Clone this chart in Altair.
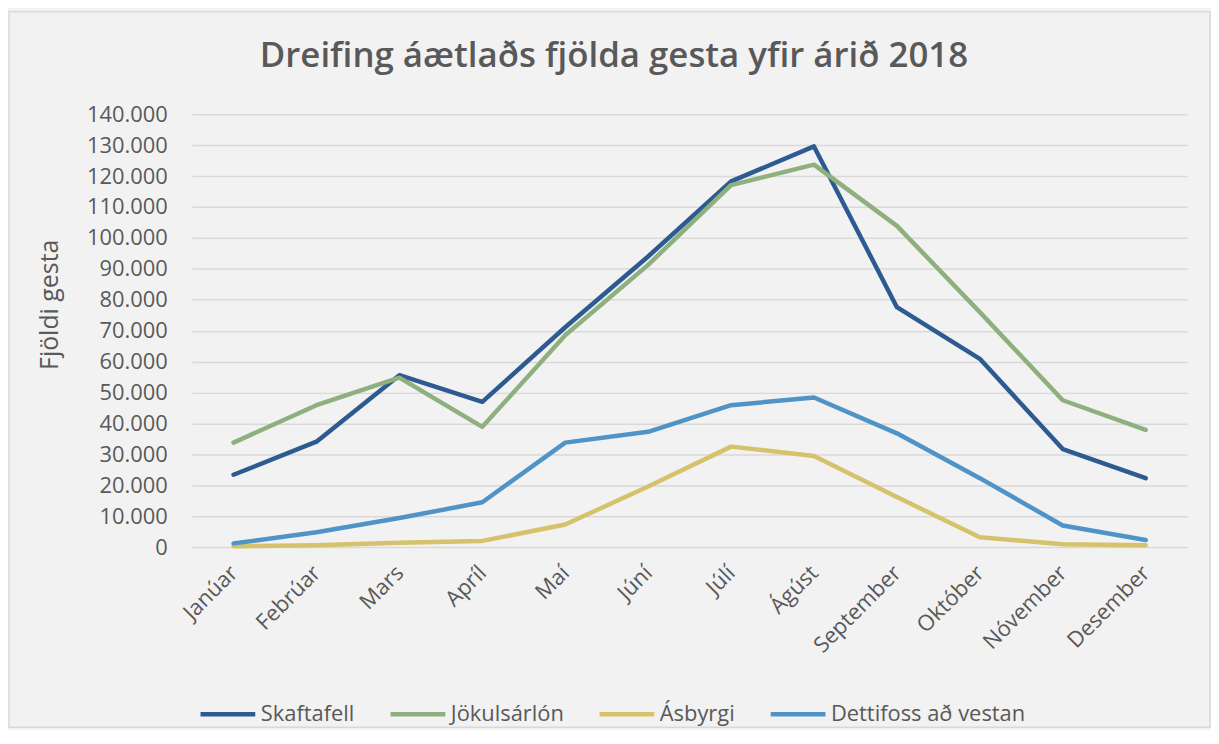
import altair as alt
import pandas as pd

months = ["Janúar", "Febrúar", "Mars", "Apríl", "Maí", "Júní", "Júlí",
          "Ágúst", "September", "Október", "Nóvember", "Desember"]
series = ["Skaftafell", "Jökulsárlón", "Ásbyrgi", "Dettifoss að vestan"]
colors = ["#2d5b91", "#8eb07e", "#d6c26b", "#5093c6"]

skaftafell = [23400, 34100, 55600, 47000, 71100, 94000, 118300, 129600, 77600, 60900, 31700, 22300]
jokulsarlon = [33800, 45900, 54800, 38900, 68500, 91300, 117100, 123700, 103900, 76000, 47500, 37900]
asbyrgi = [300, 600, 1400, 2000, 7300, 19600, 32500, 29500, 16200, 3200, 900, 600]
dettifoss = [1200, 4800, 9400, 14500, 33800, 37300, 45900, 48400, 36800, 22300, 7000, 2300]

y_ticks = list(range(0, 140001, 10000))

rows = []
for name, vals in zip(series, [skaftafell, jokulsarlon, asbyrgi, dettifoss]):
    for m, v in zip(months, vals):
        rows.append({"Mánuður": m, "Staður": name, "Gestir": v})
df = pd.DataFrame(rows)

FONT = "Open Sans"
TXT = "#595959"
PW, PH = 1000, 435
PL, PT, PR, PB = 185, 105, 24, 182

lines = alt.Chart(df).mark_line(strokeWidth=4.5, strokeCap="round", strokeJoin="round").encode(
    x=alt.X("Mánuður:N", sort=months,
            scale=alt.Scale(type="point", padding=0.5),
            axis=alt.Axis(title=None, labelAngle=-45, labelAlign="right",
                          labelBaseline="middle", labelPadding=22, ticks=False,
                          domain=False, grid=False, labelFontSize=22,
                          labelColor=TXT, labelFont=FONT)),
    y=alt.Y("Gestir:Q", scale=alt.Scale(domain=[0, 140000], nice=False),
            axis=alt.Axis(values=y_ticks, title="Fjöldi gesta",
                          labelExpr="replace(format(datum.value, ','), ',', '.')",
                          labelFontSize=22, labelColor=TXT, labelFont=FONT,
                          labelPadding=25, ticks=False, domain=False,
                          gridColor="#d9d9d9", gridWidth=1.5,
                          titleFontSize=25, titleFont=FONT, titleColor=TXT,
                          titleFontWeight="normal", titleAngle=270,
                          titleX=-143, titleY=191, titleAlign="center",
                          titleBaseline="middle")),
    color=alt.Color("Staður:N", scale=alt.Scale(domain=series, range=colors),
                    legend=alt.Legend(title=None, orient="none", legendX=6, legendY=573,
                                      direction="horizontal", symbolType="stroke",
                                      symbolSize=3025, symbolStrokeWidth=4.5,
                                      labelFontSize=22, labelFont=FONT, labelColor=TXT,
                                      labelOffset=3, columnPadding=26, labelLimit=400)),
    order=alt.Order("Staður:N", sort="ascending"),
)

border = alt.Chart(pd.DataFrame({"a": [0]})).mark_rect(
    fillOpacity=0, stroke="#d9d9d9", strokeWidth=1.5
).encode(
    x=alt.value(-PL + 1), x2=alt.value(PW + PR - 1),
    y=alt.value(-PT + 2), y2=alt.value(PH + PB - 1),
)

chart = alt.layer(border, lines).properties(
    width=PW, height=PH,
    title=alt.TitleParams("Dreifing áætlaðs fjölda gesta yfir árið 2018",
                          font=FONT, fontSize=35, fontWeight=600, color=TXT,
                          anchor="middle", frame="group", dx=-76,
                          baseline="alphabetic", offset=-91),
    padding={"left": PL, "top": PT, "right": PR, "bottom": PB},
    autosize=alt.AutoSizeParams(type="none"),
    background="#f2f2f2",
).configure_view(stroke=None)

chart.save("out.html", embed_options={"renderer": "svg", "actions": False})
